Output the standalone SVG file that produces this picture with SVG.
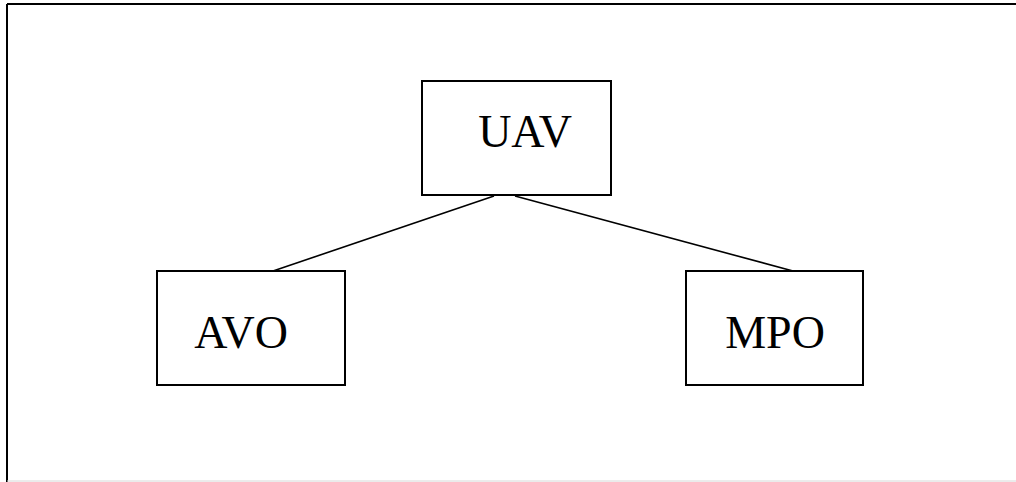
<svg xmlns="http://www.w3.org/2000/svg" width="1016" height="482" viewBox="0 0 1016 482">
  <style>
    .box { fill: #ffffff; stroke: #000000; stroke-width: 2; }
    .label { font-family: "Liberation Serif", "Times New Roman", serif; font-size: 46px; fill: #000000; text-anchor: middle; }
    .link { stroke: #000000; stroke-width: 1.6; fill: none; }
  </style>
  <rect x="0" y="0" width="1016" height="482" fill="#ffffff"/>
  <!-- outer frame -->
  <g id="frame">
    <line x1="7" y1="4" x2="1016" y2="4" stroke="#000" stroke-width="2"/>
    <line x1="7" y1="4" x2="7" y2="482" stroke="#000" stroke-width="2"/>
    <line x1="7" y1="481" x2="1016" y2="481" stroke="#d8d8d8" stroke-width="1"/>
  </g>
  <g id="connectors">
    <line class="link" x1="494" y1="196" x2="273" y2="271"/>
    <line class="link" x1="515" y1="196" x2="793" y2="271"/>
  </g>
  <g id="uav">
    <rect class="box" x="422" y="81" width="189" height="114"/>
    <text class="label" x="525" y="147">UAV</text>
  </g>
  <g id="avo">
    <rect class="box" x="157" y="271" width="188" height="114"/>
    <text class="label" x="241" y="348">AVO</text>
  </g>
  <g id="mpo">
    <rect class="box" x="686" y="271" width="177" height="114"/>
    <text class="label" x="775" y="348">MPO</text>
  </g>
</svg>
